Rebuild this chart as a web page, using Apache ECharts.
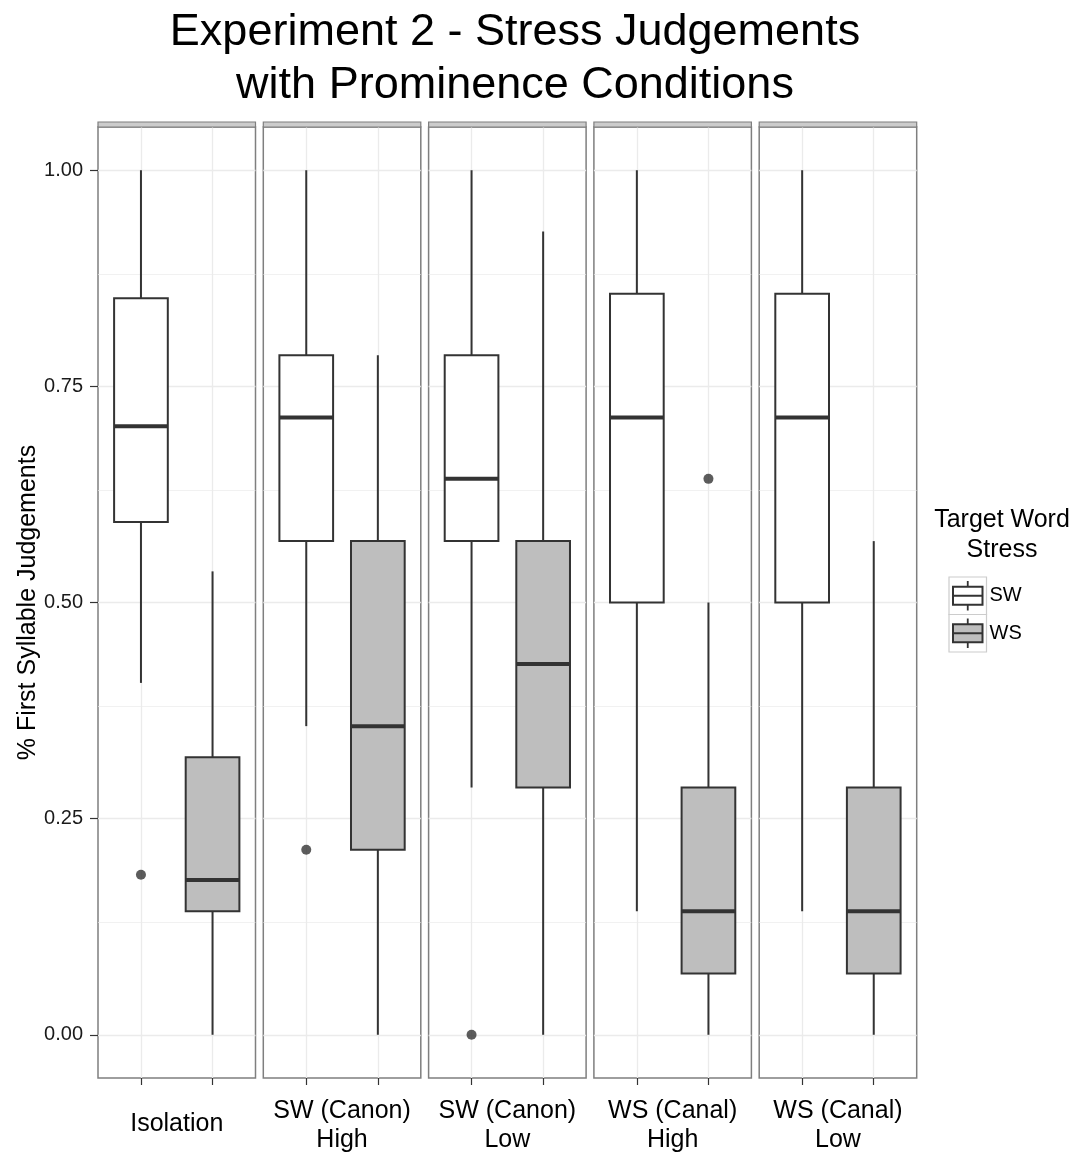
<!DOCTYPE html>
<html><head><meta charset="utf-8">
<script src="https://cdn.jsdelivr.net/npm/echarts@6/dist/echarts.min.js"></script>
<style>html,body{margin:0;padding:0;background:#fff}#c{width:1078px;height:1154px}</style>
</head><body><div id="c"></div>
<script>
// ---- data ----
const panels = ['Isolation', 'SW (Canon)\nHigh', 'SW (Canon)\nLow', 'WS (Canal)\nHigh', 'WS (Canal)\nLow'];
const groups = ['SW', 'WS'];
// [lowerWhisker, Q1, median, Q3, upperWhisker] per panel
const swStats = [
  [0.407, 0.593, 0.704, 0.852, 1.000],
  [0.357, 0.571, 0.714, 0.786, 1.000],
  [0.286, 0.571, 0.643, 0.786, 1.000],
  [0.143, 0.500, 0.714, 0.857, 1.000],
  [0.143, 0.500, 0.714, 0.857, 1.000]
];
const wsStats = [
  [0.000, 0.143, 0.179, 0.321, 0.536],
  [0.000, 0.214, 0.357, 0.571, 0.786],
  [0.000, 0.286, 0.429, 0.571, 0.929],
  [0.000, 0.071, 0.143, 0.286, 0.500],
  [0.000, 0.071, 0.143, 0.286, 0.571]
];
const swOutliers = [[0.185], [0.214], [0.000], [], []];
const wsOutliers = [[], [], [], [0.643], []];
const groupPos = [0, 1];
const yTicks = [0, 0.25, 0.5, 0.75, 1];
const yMinor = [0.125, 0.375, 0.625, 0.875];

// ---- layout / style ----
const FONT = "'Liberation Sans', Arial, Helvetica, sans-serif";
const DARK = '#333333';
const fills = ['#ffffff', '#bebebe'];
const P_LEFT = 98, P_STEP = 165.3, P_W = 157.5, P_TOP = 127, P_H = 951;

function renderBox(params, api) {
  const x = api.value(0);
  const lo = api.coord([x, api.value(1)]);
  const q1 = api.coord([x, api.value(2)]);
  const md = api.coord([x, api.value(3)]);
  const q3 = api.coord([x, api.value(4)]);
  const hi = api.coord([x, api.value(5)]);
  const w = api.size([0.75, 0])[0];
  const cx = lo[0];
  const fill = api.visual('color');
  const lw = 2;
  return {
    type: 'group',
    children: [
      { type: 'line', shape: { x1: cx, y1: hi[1], x2: cx, y2: q3[1] }, style: { stroke: DARK, lineWidth: lw } },
      { type: 'line', shape: { x1: cx, y1: q1[1], x2: cx, y2: lo[1] }, style: { stroke: DARK, lineWidth: lw } },
      { type: 'rect', shape: { x: cx - w / 2, y: q3[1], width: w, height: q1[1] - q3[1] }, style: { fill: fill, stroke: DARK, lineWidth: lw } },
      { type: 'line', shape: { x1: cx - w / 2, y1: md[1], x2: cx + w / 2, y2: md[1] }, style: { stroke: DARK, lineWidth: 4 } }
    ]
  };
}

const grids = [], xAxes = [], yAxes = [], series = [], graphics = [];
panels.forEach((name, i) => {
  const left = P_LEFT + i * P_STEP;
  grids.push({ left: left, top: P_TOP, width: P_W, height: P_H, show: true, borderColor: '#7f7f7f', borderWidth: 1.5, backgroundColor: '#fff', containLabel: false, outerBoundsMode: 'none' });
  const lines = name.split('\n').length;
  xAxes.push({
    gridIndex: i, type: 'value', min: -0.6, max: 1.6, position: 'bottom',
    axisLine: { show: false, onZero: false }, splitLine: { show: false },
    axisLabel: { show: false },
    axisTick: { show: true, customValues: groupPos, length: 7, lineStyle: { color: DARK, width: 1.2 } },
    name: name, nameLocation: 'middle', nameGap: lines === 1 ? 32 : 19,
    nameTextStyle: { fontFamily: FONT, fontSize: 25, lineHeight: 29, color: '#000' }
  });
  if (i === 0) {
    yAxes.push({
      gridIndex: i, type: 'value', min: -0.05, max: 1.05, position: 'left',
      axisLine: { show: false, onZero: false }, splitLine: { show: false },
      axisTick: { show: true, customValues: yTicks, length: 8, lineStyle: { color: DARK, width: 1.2 } },
      axisLabel: { customValues: yTicks, formatter: v => v.toFixed(2), fontFamily: FONT, fontSize: 20, color: '#1a1a1a', margin: 15 },
      name: '% First Syllable Judgements', nameLocation: 'middle', nameGap: 53,
      nameTextStyle: { fontFamily: FONT, fontSize: 25, color: '#000' }
    });
  } else {
    yAxes.push({ gridIndex: i, type: 'value', min: -0.05, max: 1.05, show: false, axisLine: { onZero: false }, splitLine: { show: false } });
  }
  // gridlines
  const ml = [];
  yMinor.forEach(v => ml.push({ yAxis: v, lineStyle: { color: '#ebebeb', width: 0.7, type: 'solid' } }));
  yTicks.forEach(v => ml.push({ yAxis: v, lineStyle: { color: '#ebebeb', width: 1.3, type: 'solid' } }));
  groupPos.forEach(v => ml.push({ xAxis: v, lineStyle: { color: '#ebebeb', width: 1.3, type: 'solid' } }));
  series.push({
    type: 'line', xAxisIndex: i, yAxisIndex: i, data: [], z: 1, silent: true,
    markLine: { silent: true, z: 1, zlevel: 0, symbol: 'none', label: { show: false }, animation: false, data: ml }
  });
  // boxes
  [swStats, wsStats].forEach((stats, g) => {
    series.push({
      type: 'custom', name: groups[g], xAxisIndex: i, yAxisIndex: i, z: 6,
      itemStyle: { color: fills[g] },
      encode: { x: 0, y: [1, 2, 3, 4, 5] },
      renderItem: renderBox,
      data: [[groupPos[g]].concat(stats[i])]
    });
  });
  // outliers
  const outs = swOutliers[i].map(v => [groupPos[0], v]).concat(wsOutliers[i].map(v => [groupPos[1], v]));
  series.push({
    type: 'scatter', xAxisIndex: i, yAxisIndex: i, z: 7, symbolSize: 10,
    itemStyle: { color: DARK }, data: outs
  });
  // strip band
  graphics.push({ type: 'rect', shape: { x: left, y: P_TOP - 5, width: P_W, height: 5 }, style: { fill: '#cccccc', stroke: '#7f7f7f', lineWidth: 1.2 }, z: 10 });
});

// legend (drawn)
const LX = 949, LY = 577, KS = 37.5;
graphics.push({ type: 'text', x: 1002, y: 535, style: { text: 'Target Word\nStress', fontFamily: FONT, fontSize: 25, lineHeight: 30, fill: '#000', align: 'center', verticalAlign: 'middle' } });
groups.forEach((g, k) => {
  const y0 = LY + k * KS;
  const cx = LX + KS / 2, cy = y0 + KS / 2;
  graphics.push({ type: 'rect', shape: { x: LX, y: y0, width: KS, height: KS }, style: { fill: '#ffffff', stroke: '#cccccc', lineWidth: 1.2 } });
  graphics.push({ type: 'line', shape: { x1: cx, y1: y0 + 4, x2: cx, y2: y0 + KS - 4 }, style: { stroke: DARK, lineWidth: 1.8 } });
  graphics.push({ type: 'rect', shape: { x: LX + 4, y: cy - 9, width: KS - 8, height: 18 }, style: { fill: fills[k], stroke: DARK, lineWidth: 2 } });
  graphics.push({ type: 'line', shape: { x1: LX + 4, y1: cy, x2: LX + KS - 4, y2: cy }, style: { stroke: DARK, lineWidth: 2 } });
  graphics.push({ type: 'text', x: LX + KS + 3, y: cy, style: { text: g, fontFamily: FONT, fontSize: 20, fill: '#000', align: 'left', verticalAlign: 'middle' } });
});

const chart = echarts.init(document.getElementById('c'), null, { renderer: 'canvas' });
chart.setOption({
  animation: false,
  backgroundColor: '#ffffff',
  title: {
    text: 'Experiment 2 - Stress Judgements\nwith Prominence Conditions',
    left: 515, top: 6, textAlign: 'center', padding: 0,
    textStyle: { fontFamily: FONT, fontSize: 45, fontWeight: 'normal', lineHeight: 53, color: '#000' }
  },
  grid: grids, xAxis: xAxes, yAxis: yAxes, series: series,
  graphic: graphics
});
</script></body></html>
